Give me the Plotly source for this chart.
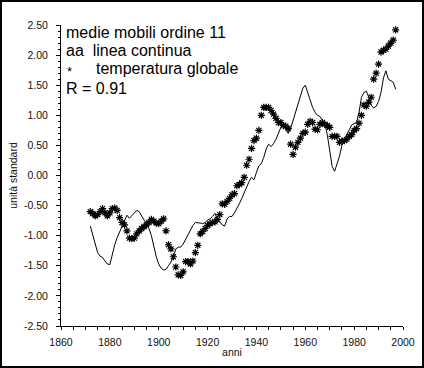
import plotly.graph_objects as go

years = list(range(1872, 1998))

line_values = [
    -0.84, -0.98, -1.12, -1.28, -1.34, -1.36, -1.42, -1.47, -1.48, -1.30,
    -1.15, -1.03, -0.93, -0.85, -0.76, -0.66, -0.71, -0.67, -0.62, -0.58,
    -0.60, -0.68, -0.74, -0.80, -0.88, -1.00, -1.18, -1.35, -1.47, -1.54,
    -1.57, -1.56, -1.50, -1.44, -1.35, -1.22, -1.19, -1.19, -1.14, -1.06,
    -0.98, -0.90, -0.83, -0.78, -0.78, -0.79, -0.80, -0.78, -0.74, -0.72,
    -0.68, -0.63, -0.72, -0.78, -0.82, -0.84, -0.72, -0.68, -0.68, -0.62,
    -0.55, -0.47, -0.38, -0.28, -0.20, -0.10, -0.03, -0.07, 0.05, 0.16,
    0.20, 0.30, 0.44, 0.52, 0.48, 0.53, 0.60, 0.70, 0.80, 0.86,
    0.78, 0.70, 0.78, 0.92, 1.05, 1.17, 1.30, 1.45, 1.50, 1.38,
    1.25, 1.13, 1.05, 1.00, 0.98, 0.92, 0.86, 0.68, 0.40, 0.15,
    0.07, 0.18, 0.32, 0.50, 0.60, 0.68, 0.76, 0.84, 0.86, 0.88,
    1.05, 1.30, 1.38, 1.40, 1.30, 1.17, 1.12, 1.15, 1.23, 1.38,
    1.62, 1.74, 1.60, 1.57, 1.55, 1.43,
]

star_values = [
    -0.60, -0.63, -0.67, -0.65, -0.60, -0.55, -0.62, -0.67, -0.62, -0.55,
    -0.54, -0.58, -0.70, -0.78, -0.82, -0.92, -1.04, -1.05, -1.04, -0.97,
    -0.92, -0.88, -0.85, -0.82, -0.78, -0.73, -0.76, -0.79, -0.80, -0.76,
    -0.72, -0.92, -1.15, -1.22, -1.35, -1.52, -1.65, -1.66, -1.60, -1.43,
    -1.43, -1.47, -1.42, -1.28, -1.16, -0.97, -0.93, -0.88, -0.83, -0.80,
    -0.78, -0.77, -0.73, -0.65, -0.47, -0.48, -0.43, -0.38, -0.32, -0.30,
    -0.17, -0.15, -0.12, -0.03, 0.17, 0.27, 0.45, 0.58, 0.62, 0.75,
    1.00, 1.13, 1.13, 1.13, 1.08, 1.02, 0.95, 0.88, 0.88, 0.83,
    0.82, 0.78, 0.52, 0.35, 0.47, 0.55, 0.62, 0.70, 0.72, 0.85,
    0.90, 0.88, 0.77, 0.76, 0.85, 0.88, 0.85, 0.83, 0.80, 0.65,
    0.65, 0.65, 0.55, 0.57, 0.58, 0.60, 0.65, 0.68, 0.75, 0.78,
    0.87, 1.00, 1.17, 1.15, 1.22, 1.30, 1.60, 1.70, 1.85, 2.05,
    2.08, 2.10, 2.15, 2.20, 2.25, 2.42,
]

y_tickvals = [2.5, 2.0, 1.5, 1.0, 0.5, 0.0, -0.5, -1.0, -1.5, -2.0, -2.5]
y_ticktext = ["2.50", "2.00", "1.50", "1.00", "0.50", "0.00",
              "-0.50", "-1.00", "-1.50", "-2.00", "-2.50"]
x_tickvals = [1860, 1880, 1900, 1920, 1940, 1960, 1980, 2000]

legend_lines = ["medie mobili ordine 11", "aa\u00a0\u00a0linea continua",
                "temperatura globale", "R = 0.91"]

FONT = "Liberation Sans, Arial, sans-serif"

fig = go.Figure()
fig.add_trace(go.Scatter(x=years, y=line_values, mode="lines",
                         line=dict(color="black", width=1), showlegend=False))
fig.add_trace(go.Scatter(x=years, y=star_values, mode="markers",
                         marker=dict(symbol="asterisk-open", size=6, color="black",
                                     line=dict(color="black", width=1.2)),
                         showlegend=False))

L, R, T, B = 61, 21, 25, 42
W, H = 424, 368
pw, ph = W - L - R, H - T - B

def px(x):
    return (x - L) / pw

def py(y):
    return (H - B - y) / ph

fig.update_layout(
    template="none",
    width=W, height=H,
    margin=dict(l=L, r=R, t=T, b=B, pad=0),
    paper_bgcolor="white", plot_bgcolor="white",
    font=dict(family=FONT, color="#111", size=10.5),
    xaxis=dict(range=[1860, 2000], tickvals=x_tickvals,
               ticks="outside", ticklen=3, tickcolor="black", tickwidth=1,
               ticklabelstandoff=3,
               showline=True, linecolor="black", linewidth=1,
               showgrid=False, zeroline=False,
               minor=dict(dtick=5, tick0=1860, ticks="outside", ticklen=3,
                          tickcolor="black", tickwidth=1, showgrid=False),
               title=dict(text="anni", font=dict(size=10.5, color="#111"), standoff=2)),
    yaxis=dict(range=[-2.5, 2.5], tickvals=y_tickvals, ticktext=y_ticktext,
               ticks="outside", ticklen=4, tickcolor="black", tickwidth=1,
               ticklabelstandoff=6,
               showline=True, linecolor="black", linewidth=1,
               showgrid=False, zeroline=False,
               minor=dict(dtick=0.1, tick0=0, ticks="outside", ticklen=2,
                          tickcolor="black", tickwidth=1, showgrid=False),
               title=dict(text="unità standard", font=dict(size=10.5, color="#111"), standoff=4)),
)

fig.add_shape(type="rect", xref="paper", yref="paper",
              x0=px(1), x1=px(W - 1), y0=py(H - 1), y1=py(1),
              line=dict(color="black", width=2), fillcolor="rgba(0,0,0,0)")

ann_y = [33, 50, 69, 89]
fig.add_annotation(xref="paper", yref="paper", x=px(64), y=py(ann_y[0]),
                   text=legend_lines[0], showarrow=False, xanchor="left",
                   yanchor="middle", font=dict(size=16, color="black"))
fig.add_annotation(xref="paper", yref="paper", x=px(64), y=py(ann_y[1]),
                   text=legend_lines[1], showarrow=False, xanchor="left",
                   yanchor="middle", font=dict(size=16, color="black"))
fig.add_annotation(xref="paper", yref="paper", x=px(65), y=py(ann_y[2] + 2),
                   text="*", showarrow=False, xanchor="left",
                   yanchor="middle", font=dict(size=13, color="black"))
fig.add_annotation(xref="paper", yref="paper", x=px(94), y=py(ann_y[2]),
                   text=legend_lines[2], showarrow=False, xanchor="left",
                   yanchor="middle", font=dict(size=16, color="black"))
fig.add_annotation(xref="paper", yref="paper", x=px(64), y=py(ann_y[3]),
                   text=legend_lines[3], showarrow=False, xanchor="left",
                   yanchor="middle", font=dict(size=16, color="black"))

fig.write_html("out.html", config={"displayModeBar": False},
               post_script="document.body.style.margin='0';")
